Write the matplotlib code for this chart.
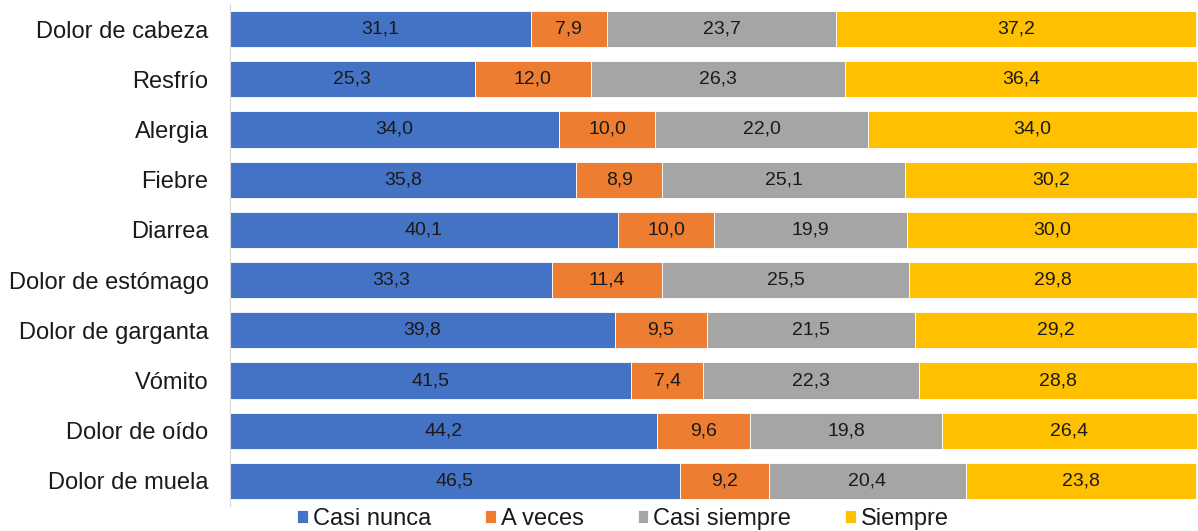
import matplotlib
matplotlib.use("Agg")
import matplotlib.pyplot as plt
import numpy as np

categories = ["Dolor de cabeza", "Resfrío", "Alergia", "Fiebre", "Diarrea",
              "Dolor de estómago", "Dolor de garganta", "Vómito", "Dolor de oído",
              "Dolor de muela"]
casi_nunca = [31.1, 25.3, 34.0, 35.8, 40.1, 33.3, 39.8, 41.5, 44.2, 46.5]
a_veces = [7.9, 12.0, 10.0, 8.9, 10.0, 11.4, 9.5, 7.4, 9.6, 9.2]
casi_siempre = [23.7, 26.3, 22.0, 25.1, 19.9, 25.5, 21.5, 22.3, 19.8, 20.4]
siempre = [37.2, 36.4, 34.0, 30.2, 30.0, 29.8, 29.2, 28.8, 26.4, 23.8]
series_names = ["Casi nunca", "A veces", "Casi siempre", "Siempre"]
colors = ["#4472C4", "#ED7D31", "#A5A5A5", "#FFC000"]

plt.rcParams['font.family'] = ['Liberation Sans', 'DejaVu Sans']

fig = plt.figure(figsize=(11.98, 5.31), dpi=100)
ax = fig.add_axes([230/1198, 1-506/531, 967/1198, 502/531])

y = np.arange(len(categories))
left = np.zeros(len(categories))
handles = []
for name, vals, col in zip(series_names, [casi_nunca, a_veces, casi_siempre, siempre], colors):
    vals = np.array(vals)
    b = ax.barh(y, vals, left=left, height=0.72, color=col, edgecolor='white', linewidth=0.6, label=name)
    handles.append(b)
    for yi, l, v in zip(y, left, vals):
        ax.text(l + v/2, yi, f"{v:.1f}".replace('.', ','), ha='center', va='center',
                fontsize=14, color='#1a1a1a')
    left += vals

ax.set_xlim(0, 100)
ax.set_ylim(len(categories) - 0.5, -0.5)
ax.set_yticks(y)
ax.set_yticklabels(categories, fontsize=17, color='#1a1a1a')
ax.tick_params(axis='y', length=0, pad=15.5)
ax.set_xticks([])
for s in ['top', 'right', 'bottom']:
    ax.spines[s].set_visible(False)
ax.spines['left'].set_color('#D9D9D9')

fig.legend(handles=handles, labels=series_names, loc='center', ncol=4,
           bbox_to_anchor=(623/1198, 1-519/531), frameon=False, fontsize=17,
           handlelength=0.45, handleheight=0.45, handletextpad=0.2, columnspacing=2.3,
           labelcolor='#1a1a1a', borderpad=0)

fig.savefig("out.png", dpi=100)
